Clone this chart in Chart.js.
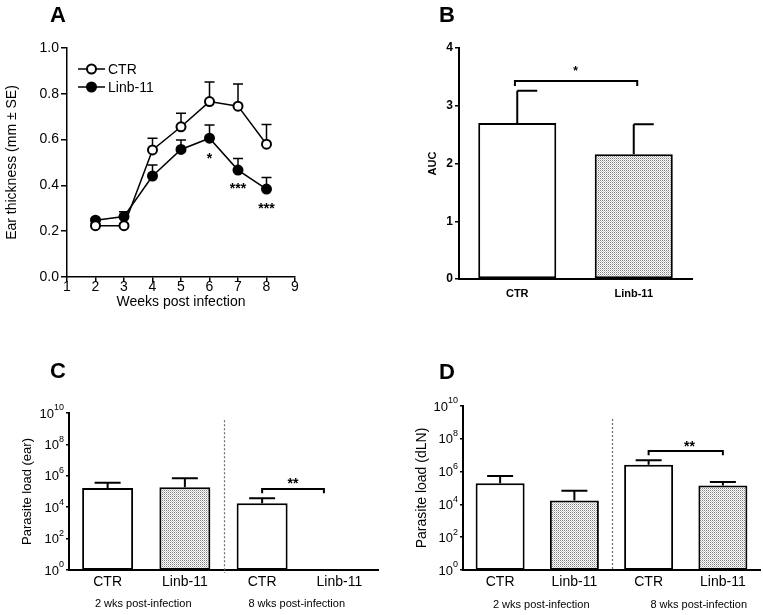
<!DOCTYPE html>
<html><head><meta charset="utf-8">
<script src="https://cdn.jsdelivr.net/npm/chart.js@4.4.0/dist/chart.umd.min.js"></script>
<style>
html,body{margin:0;padding:0;background:#fff;}
body{width:763px;height:615px;position:relative;overflow:hidden;font-family:"Liberation Sans",Arial,sans-serif;}
canvas{position:absolute;}
.pl{position:absolute;font-weight:bold;font-size:22px;line-height:22px;color:#000;}
</style></head><body>
<canvas id="cA" width="380" height="320" style="left:0;top:0"></canvas>
<canvas id="cB" width="383" height="320" style="left:380px;top:0"></canvas>
<canvas id="cC" width="380" height="295" style="left:0;top:320px"></canvas>
<canvas id="cD" width="383" height="295" style="left:380px;top:320px"></canvas>
<div class="pl" style="left:50px;top:4px">A</div>
<div class="pl" style="left:439px;top:4px">B</div>
<div class="pl" style="left:50px;top:360px">C</div>
<div class="pl" style="left:439px;top:361px">D</div>
<script>
// ---------- DATA ----------
// Panel A: ear thickness over time
const weeks = [2, 3, 4, 5, 6, 7, 8];
const ctrMean = [0.224, 0.224, 0.555, 0.656, 0.766, 0.746, 0.580];
const ctrSE   = [0.008, 0.008, 0.051, 0.059, 0.085, 0.097, 0.086];
const linbMean = [0.248, 0.264, 0.441, 0.557, 0.606, 0.467, 0.384];
const linbSE   = [0.008, 0.021, 0.048, 0.041, 0.058, 0.051, 0.050];
const sigWeeks = [6, 7, 8];
const sigMarks = ['*', '***', '***'];
const sigLevel = [0.53, 0.40, 0.31];
const seriesNames = ['CTR', 'Linb-11'];
const xTicksA = [1, 2, 3, 4, 5, 6, 7, 8, 9];
const yTicksA = [0, 0.2, 0.4, 0.6, 0.8, 1.0];

// Panel B: AUC
const aucGroups = ['CTR', 'Linb-11'];
const aucMean = [2.70, 2.16];
const aucSE = [0.56, 0.52];
const yTicksB = [0, 1, 2, 3, 4];

// Panels C, D: parasite load
const loadGroups = ['CTR', 'Linb-11', 'CTR', 'Linb-11'];
const timeLabels = ['2 wks post-infection', '8 wks post-infection'];
const earMean = [1.65e5, 1.86e5, 1.78e4, null];
const earSE   = [1.95e5, 5.0e5, 1.9e4, null];
const dlnMean = [1.94e5, 1.7e4, 2.6e6, 1.4e5];
const dlnSE   = [3.5e5, 5.2e4, 2.4e6, 0.9e5];
const logTicks = [1, 1e2, 1e4, 1e6, 1e8, 1e10];
const logTickBase = '10';
const logTickExp = ['0', '2', '4', '6', '8', '10'];

// ---------- STYLE ----------
const FONT = '"Liberation Sans", Arial, Helvetica, sans-serif';
Chart.defaults.font.family = FONT;
Chart.defaults.color = '#000';

function makePattern() {
  const c = document.createElement('canvas');
  c.width = 2; c.height = 2;
  const g = c.getContext('2d');
  g.fillStyle = '#ffffff'; g.fillRect(0, 0, 2, 2);
  g.fillStyle = '#808080'; g.fillRect(0, 0, 1, 1);
  g.fillStyle = '#c4c4c4'; g.fillRect(1, 1, 1, 1);
  return g.createPattern(c, 'repeat');
}
const stipple = makePattern();

function errPlugin(sets, capL, capR, lw) {
  return {
    id: 'errBars',
    beforeDatasetsDraw(chart) {
      const ctx = chart.ctx, ys = chart.scales.y;
      ctx.save();
      ctx.strokeStyle = '#000'; ctx.lineWidth = lw;
      sets.forEach(s => {
        const meta = chart.getDatasetMeta(s.ds);
        s.mean.forEach((m, i) => {
          if (m == null || !s.se[i]) return;
          const el = meta.data[i];
          const x = el.x;
          const y0 = ys.getPixelForValue(m);
          const y1 = ys.getPixelForValue(m + s.se[i]);
          ctx.beginPath();
          ctx.moveTo(x, y0); ctx.lineTo(x, y1);
          ctx.moveTo(x - capL, y1); ctx.lineTo(x + capR, y1);
          ctx.stroke();
        });
      });
      ctx.restore();
    }
  };
}

function bracket(ctx, xs, ys, x1, x2, yv, ydrop) {
  const px1 = xs.getPixelForValue(x1), px2 = xs.getPixelForValue(x2);
  const py = ys.getPixelForValue(yv), pd = ys.getPixelForValue(ydrop);
  ctx.save();
  ctx.strokeStyle = '#000'; ctx.lineWidth = 2;
  ctx.beginPath();
  ctx.moveTo(px1, pd); ctx.lineTo(px1, py); ctx.lineTo(px2, py); ctx.lineTo(px2, pd);
  ctx.stroke();
  ctx.restore();
}
function stars(ctx, xs, ys, xv, yv, txt, size) {
  ctx.save();
  ctx.fillStyle = '#000';
  ctx.font = 'bold ' + size + 'px ' + FONT;
  ctx.textAlign = 'center'; ctx.textBaseline = 'middle';
  ctx.fillText(txt, xs.getPixelForValue(xv), ys.getPixelForValue(yv) + size * 0.25);
  ctx.restore();
}
function dashed(ctx, xs, ys, xv, topV, extra) {
  const x = Math.round(xs.getPixelForValue(xv)) + 0.5;
  ctx.save();
  ctx.strokeStyle = '#6a6a6a'; ctx.lineWidth = 1.2; ctx.setLineDash([2, 2]);
  ctx.beginPath();
  ctx.moveTo(x, ys.getPixelForValue(topV));
  ctx.lineTo(x, ys.getPixelForValue(ys.min) + extra);
  ctx.stroke();
  ctx.restore();
}
function groupLabels(ctx, xs, yPix, offsets) {
  ctx.save();
  ctx.fillStyle = '#000';
  ctx.font = '11px ' + FONT;
  ctx.textAlign = 'center'; ctx.textBaseline = 'middle';
  timeLabels.forEach((t, i) => {
    ctx.fillText(t, xs.getPixelForValue(i * 2 + 0.5) + offsets[i], yPix);
  });
  ctx.restore();
}
// power-of-ten tick labels with a raised exponent, placed through the y scale
const powLabels = {
  id: 'powLabels',
  afterDraw(chart) {
    const ctx = chart.ctx, ys = chart.scales.y;
    const xr = ys.right - 5;
    ctx.save();
    ctx.fillStyle = '#000';
    ctx.textAlign = 'right'; ctx.textBaseline = 'middle';
    logTicks.forEach((v, i) => {
      const y = ys.getPixelForValue(v);
      ctx.font = '9px ' + FONT;
      const ew = ctx.measureText(logTickExp[i]).width;
      ctx.fillText(logTickExp[i], xr, y - 5);
      ctx.font = '13px ' + FONT;
      ctx.fillText(logTickBase, xr - ew, y + 1);
    });
    ctx.restore();
  }
};

const base = { responsive: false, animation: false, devicePixelRatio: 1 };
const noPlug = { legend: { display: false }, tooltip: { enabled: false } };

// ---------- PANEL A ----------
const legendA = {
  id: 'legendA',
  afterDraw(chart) {
    const ctx = chart.ctx;
    const rows = [{ y: 69, fill: '#fff' }, { y: 87, fill: '#000' }];
    ctx.save();
    rows.forEach((r, i) => {
      ctx.strokeStyle = '#000'; ctx.lineWidth = 1.5;
      ctx.beginPath(); ctx.moveTo(78, r.y); ctx.lineTo(105, r.y); ctx.stroke();
      ctx.beginPath(); ctx.arc(91.5, r.y, 4.5, 0, Math.PI * 2);
      ctx.fillStyle = r.fill; ctx.fill(); ctx.lineWidth = 2; ctx.stroke();
      ctx.fillStyle = '#000'; ctx.font = '14px ' + FONT;
      ctx.textAlign = 'left'; ctx.textBaseline = 'middle';
      ctx.fillText(seriesNames[i], 108, r.y + 1);
    });
    ctx.restore();
  }
};
const sigA = {
  id: 'sigA',
  afterDraw(chart) {
    const xs = chart.scales.x, ys = chart.scales.y;
    sigWeeks.forEach((w, i) => stars(chart.ctx, xs, ys, w, sigLevel[i], sigMarks[i], 14));
  }
};
new Chart(document.getElementById('cA'), {
  type: 'line',
  data: {
    datasets: [
      { label: seriesNames[0], data: weeks.map((w, i) => ({ x: w, y: ctrMean[i] })),
        borderColor: '#000', borderWidth: 1.5, pointRadius: 4.5, pointBorderWidth: 2,
        pointBackgroundColor: '#fff', pointBorderColor: '#000', tension: 0 },
      { label: seriesNames[1], data: weeks.map((w, i) => ({ x: w, y: linbMean[i] })),
        borderColor: '#000', borderWidth: 1.5, pointRadius: 4.5, pointBorderWidth: 2,
        pointBackgroundColor: '#000', pointBorderColor: '#000', tension: 0 }
    ]
  },
  options: Object.assign({}, base, {
    layout: { padding: { left: 0, top: 48, right: 85, bottom: 5 } },
    plugins: noPlug,
    scales: {
      x: { type: 'linear', min: xTicksA[0], max: xTicksA[xTicksA.length - 1],
        afterBuildTicks: s => { s.ticks = xTicksA.map(v => ({ value: v })); },
        ticks: { font: { size: 14 }, padding: -3, color: '#000' },
        grid: { drawOnChartArea: false, drawTicks: true, tickLength: 5, color: '#000', lineWidth: 1.5 },
        border: { color: '#000', width: 1.5 },
        title: { display: true, text: 'Weeks post infection', font: { size: 14 }, padding: { top: 0, bottom: 4 }, color: '#000' },
        afterFit: s => { s.height = 38; } },
      y: { min: 0, max: 1,
        afterBuildTicks: s => { s.ticks = yTicksA.map(v => ({ value: v })); },
        ticks: { font: { size: 14 }, padding: 2, color: '#000', callback: v => Number(v).toFixed(1) },
        grid: { drawOnChartArea: false, drawTicks: true, tickLength: 6, color: '#000', lineWidth: 1.5 },
        border: { color: '#000', width: 1.5 },
        title: { display: true, text: 'Ear thickness (mm \u00B1 SE)', font: { size: 14 }, padding: { top: 4, bottom: 0 }, color: '#000' },
        afterFit: s => { s.width = 67; } }
    }
  }),
  plugins: [errPlugin([{ ds: 0, mean: ctrMean, se: ctrSE }, { ds: 1, mean: linbMean, se: linbSE }], 5, 5, 1.5), legendA, sigA]
});

// ---------- PANEL B ----------
const annB = {
  id: 'annB',
  afterDraw(chart) {
    const xs = chart.scales.x, ys = chart.scales.y;
    bracket(chart.ctx, xs, ys, -0.02, 1.03, 3.43, 3.34);
    stars(chart.ctx, xs, ys, 0.5, 3.64, '*', 12);
  }
};
new Chart(document.getElementById('cB'), {
  type: 'bar',
  data: { labels: aucGroups, datasets: [{ data: aucMean, backgroundColor: ['#fff', stipple],
    borderColor: '#000', borderWidth: 2, borderSkipped: false, barPercentage: 0.67, categoryPercentage: 1 }] },
  options: Object.assign({}, base, {
    layout: { padding: { left: 42, top: 48, right: 71, bottom: 0 } },
    plugins: noPlug,
    scales: {
      x: { ticks: { font: { size: 11, weight: 'bold' }, padding: 8, color: '#000' },
        grid: { display: false, drawTicks: false },
        border: { color: '#000', width: 2 },
        afterFit: s => { s.height = 41; } },
      y: { min: 0, max: 4,
        afterBuildTicks: s => { s.ticks = yTicksB.map(v => ({ value: v })); },
        ticks: { font: { size: 12, weight: 'bold' }, padding: 2, color: '#000' },
        grid: { drawOnChartArea: false, drawTicks: true, tickLength: 4, color: '#000', lineWidth: 1.5 },
        border: { color: '#000', width: 2 },
        title: { display: true, text: 'AUC', font: { size: 11, weight: 'bold' }, padding: { top: 4, bottom: 0 }, color: '#000' },
        afterFit: s => { s.width = 37; } }
    }
  }),
  plugins: [errPlugin([{ ds: 0, mean: aucMean, se: aucSE }], 0, 20, 2), annB]
});

// ---------- PANELS C & D ----------
function loadChart(id, mean, se, yTitle, titleSize, pad, yW, annot) {
  return new Chart(document.getElementById(id), {
    type: 'bar',
    data: { labels: loadGroups, datasets: [{ data: mean,
      backgroundColor: ['#fff', stipple, '#fff', stipple],
      borderColor: '#000', borderWidth: 2, borderSkipped: false, barPercentage: 0.66, categoryPercentage: 1 }] },
    options: Object.assign({}, base, {
      layout: { padding: pad },
      plugins: noPlug,
      scales: {
        x: { ticks: { font: { size: 14 }, padding: 4, color: '#000' },
          grid: { display: false, drawTicks: false },
          border: { color: '#000', width: 2 },
          afterFit: s => { s.height = 45; } },
        y: { type: 'logarithmic', min: logTicks[0], max: logTicks[logTicks.length - 1],
          afterBuildTicks: s => { s.ticks = logTicks.map(v => ({ value: v })); },
          ticks: { display: false },
          grid: { drawOnChartArea: false, drawTicks: true, tickLength: 3, color: '#000', lineWidth: 1.5 },
          border: { color: '#000', width: 2 },
          title: { display: true, text: yTitle, font: { size: titleSize }, padding: { top: 4, bottom: 0 }, color: '#000' },
          afterFit: s => { s.width = yW; } }
      }
    }),
    plugins: [errPlugin([{ ds: 0, mean: mean, se: se }], 13, 13, 2), powLabels, annot]
  });
}
loadChart('cC', earMean, earSE, 'Parasite load (ear)', 13,
  { left: 16, top: 93, right: 2, bottom: 0 }, 53,
  { id: 'annC', afterDraw(chart) {
      const xs = chart.scales.x, ys = chart.scales.y, ctx = chart.ctx;
      dashed(ctx, xs, ys, 1.5, 3.5e9, 3);
      bracket(ctx, xs, ys, 2, 2.8, 1.45e5, 7.7e4);
      stars(ctx, xs, ys, 2.4, 5.0e5, '**', 14);
      groupLabels(ctx, xs, 284, [-3, -4]);
  } });
loadChart('cD', dlnMean, dlnSE, 'Parasite load (dLN)', 14,
  { left: 30, top: 86, right: 3, bottom: 0 }, 53,
  { id: 'annD', afterDraw(chart) {
      const xs = chart.scales.x, ys = chart.scales.y, ctx = chart.ctx;
      dashed(ctx, xs, ys, 1.5, 1.6e9, 0);
      bracket(ctx, xs, ys, 2, 3, 1.8e7, 1.0e7);
      stars(ctx, xs, ys, 2.55, 5.0e7, '**', 14);
      groupLabels(ctx, xs, 285, [4, 13]);
  } });
</script>
</body></html>
